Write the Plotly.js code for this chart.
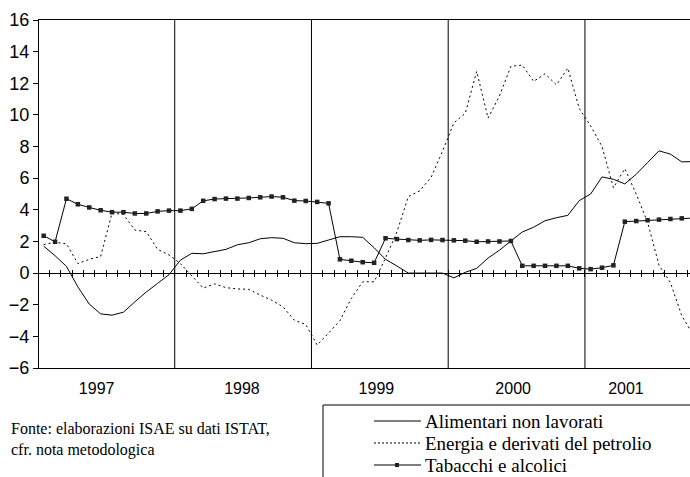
<!DOCTYPE html>
<html>
<head>
<meta charset="utf-8">
<script src="https://cdn.plot.ly/plotly-3.0.1.min.js"></script>
<style>html,body{margin:0;padding:0;background:#fff;}#chart{width:690px;height:477px;}</style>
</head>
<body>
<div id="chart"></div>
<script>
// Monthly observations, Jan 1997 onwards
const months = [
  "1997-01","1997-02","1997-03","1997-04","1997-05","1997-06","1997-07","1997-08","1997-09","1997-10","1997-11","1997-12",
  "1998-01","1998-02","1998-03","1998-04","1998-05","1998-06","1998-07","1998-08","1998-09","1998-10","1998-11","1998-12",
  "1999-01","1999-02","1999-03","1999-04","1999-05","1999-06","1999-07","1999-08","1999-09","1999-10","1999-11","1999-12",
  "2000-01","2000-02","2000-03","2000-04","2000-05","2000-06","2000-07","2000-08","2000-09","2000-10","2000-11","2000-12",
  "2001-01","2001-02","2001-03","2001-04","2001-05","2001-06","2001-07","2001-08","2001-09","2001-10"
];
const alimentari = [
  1.70, 1.10, 0.42, -0.87, -1.96, -2.58, -2.66, -2.47, -1.82, -1.20, -0.65, -0.10,
  0.82, 1.25, 1.22, 1.35, 1.50, 1.79, 1.92, 2.17, 2.24, 2.20, 1.92, 1.86,
  1.88, 2.09, 2.30, 2.30, 2.26, 1.60, 0.87, 0.45, 0.00, 0.00, 0.00, 0.00,
  -0.30, 0.05, 0.30, 0.95, 1.45, 2.00, 2.60, 2.90, 3.31, 3.50, 3.65, 4.58,
  5.00, 6.08, 5.93, 5.64, 6.25, 6.99, 7.73, 7.52, 7.03, 7.05
];
const energia = [
  1.80, 1.95, 1.85, 0.60, 0.87, 1.05, 3.80, 3.70, 2.72, 2.62, 1.50, 1.15,
  0.60, -0.15, -0.95, -0.68, -0.92, -1.00, -1.03, -1.39, -1.71, -2.13, -2.98, -3.25,
  -4.55, -3.80, -3.00, -1.60, -0.55, -0.55, 0.95, 2.60, 4.83, 5.20, 6.05, 7.70,
  9.50, 10.10, 12.75, 9.80, 11.20, 13.07, 13.15, 12.12, 12.60, 11.90, 12.96, 10.40,
  9.30, 8.00, 5.40, 6.60, 5.00, 3.20, 0.50, -0.60, -2.70, -3.90
];
const tabacchi = [
  2.36, 1.98, 4.70, 4.35, 4.15, 3.97, 3.85, 3.85, 3.77, 3.77, 3.90, 3.95,
  3.95, 4.06, 4.57, 4.68, 4.71, 4.71, 4.75, 4.79, 4.84, 4.79, 4.58, 4.56,
  4.50, 4.41, 0.87, 0.78, 0.69, 0.65, 2.20, 2.15, 2.09, 2.07, 2.10, 2.09,
  2.07, 2.05, 1.98, 2.00, 2.00, 2.03, 0.46, 0.46, 0.46, 0.46, 0.46, 0.30,
  0.25, 0.34, 0.49, 3.25, 3.29, 3.34, 3.38, 3.42, 3.46, 3.48
];
const seriesNames = ["Alimentari non lavorati", "Energia e derivati del petrolio", "Tabacchi e alcolici"];
const yearLabels = ["1997", "1998", "1999", "2000", "2001"];
const yearLabelPos = [4.65, 17.4, 29.2, 41.2, 51.1];
const footnote = ["Fonte: elaborazioni ISAE su dati ISTAT,", "cfr. nota metodologica"];

const SANS = "'Liberation Sans', Arial, sans-serif";
const SERIF = "'Liberation Serif', 'Times New Roman', serif";

const xIdx = months.map((m, i) => i);
const xRange = [-0.41, 56.72];

const traces = [
  {x: xIdx, y: alimentari, name: seriesNames[0], type: "scatter", mode: "lines",
   line: {color: "#000", width: 1}},
  {x: xIdx, y: energia, name: seriesNames[1], type: "scatter", mode: "lines",
   line: {color: "#000", width: 1, dash: "2px,3px"}},
  {x: xIdx, y: tabacchi, name: seriesNames[2], type: "scatter", mode: "lines+markers",
   line: {color: "#000", width: 1}, marker: {symbol: "square", size: 4.5, color: "#222"}},
  // empty traces so that the zero-line tick axes get their own subplots
  {x: [], y: [], xaxis: "x2", yaxis: "y", type: "scatter", mode: "lines", hoverinfo: "skip"},
  {x: [], y: [], xaxis: "x3", yaxis: "y", type: "scatter", mode: "lines", hoverinfo: "skip"}
];

// year boundaries (between December and January)
const boundaries = [];
months.forEach((m, i) => { if (i > 0 && m.endsWith("-01")) boundaries.push(i - 0.5); });

const shapes = boundaries.map(b => ({
  type: "line", xref: "x", yref: "paper", x0: b, x1: b, y0: 0, y1: 1,
  line: {color: "#000", width: 1}, layer: "above"
}));

// legend (drawn manually)
const px = v => (v - 39) / 651;
const py = v => (368 - v) / 348;
const legRows = [421, 443, 465];
shapes.push({type: "rect", xref: "paper", yref: "paper", x0: px(323), x1: px(720), y0: py(405), y1: py(500),
  line: {color: "#000", width: 1}, fillcolor: "rgba(0,0,0,0)"});
shapes.push({type: "line", xref: "paper", yref: "paper", x0: px(374), x1: px(421), y0: py(legRows[0]), y1: py(legRows[0]),
  line: {color: "#000", width: 1}});
shapes.push({type: "line", xref: "paper", yref: "paper", x0: px(374), x1: px(421), y0: py(legRows[1]), y1: py(legRows[1]),
  line: {color: "#000", width: 1, dash: "2px,2px"}});
shapes.push({type: "line", xref: "paper", yref: "paper", x0: px(374), x1: px(421), y0: py(legRows[2]), y1: py(legRows[2]),
  line: {color: "#000", width: 1}});
shapes.push({type: "rect", xref: "paper", yref: "paper", xsizemode: "pixel", ysizemode: "pixel",
  xanchor: px(397), yanchor: py(legRows[2]), x0: -2, x1: 2, y0: -2, y1: 2,
  line: {color: "#000", width: 0}, fillcolor: "#222"});

const annotations = [];
seriesNames.forEach((n, k) => annotations.push({
  text: n, xref: "paper", yref: "paper", x: px(423), y: py(legRows[k]), xanchor: "left", yanchor: "middle",
  showarrow: false, font: {family: SERIF, size: 19, color: "#000"}
}));
footnote.forEach((t, k) => annotations.push({
  text: t, xref: "paper", yref: "paper", x: px(9), y: py(428 + 22 * k), xanchor: "left", yanchor: "middle",
  showarrow: false, font: {family: SERIF, size: 16, color: "#000"}
}));

const tickAxis = (dir) => ({
  range: xRange, overlaying: "x", anchor: "free", position: 6 / 22, showgrid: false, zeroline: false,
  showline: dir === "outside", linecolor: "#000", linewidth: 1, ticks: dir, ticklen: 3, tickwidth: 1, tickcolor: "#000",
  tickmode: "linear", tick0: 0.5, dtick: 1, showticklabels: false, automargin: false, fixedrange: true
});

const layout = {
  width: 690, height: 477,
  margin: {l: 39, r: 0, t: 20, b: 109, pad: 0},
  paper_bgcolor: "#fff", plot_bgcolor: "#fff",
  showlegend: false,
  font: {family: SANS, color: "#000"},
  xaxis: {range: xRange, showgrid: false, zeroline: false, showline: true, mirror: true,
    linecolor: "#000", linewidth: 1, ticks: "", tickmode: "array", tickvals: yearLabelPos, ticktext: yearLabels,
    ticklabelstandoff: 6,
    tickfont: {family: SANS, size: 16, color: "#000"}, automargin: false},
  xaxis2: tickAxis("outside"),
  xaxis3: tickAxis("inside"),
  yaxis: {range: [-6, 16], tick0: 0, dtick: 2, ticks: "outside", ticklen: 5, tickcolor: "#000",
    showline: true, linecolor: "#000", linewidth: 1, showgrid: false, zeroline: false,
    tickfont: {family: SANS, size: 18, color: "#000"}, automargin: false},
  shapes: shapes,
  annotations: annotations
};

Plotly.newPlot("chart", traces, layout, {displayModeBar: false, staticPlot: true});
</script>
</body>
</html>
